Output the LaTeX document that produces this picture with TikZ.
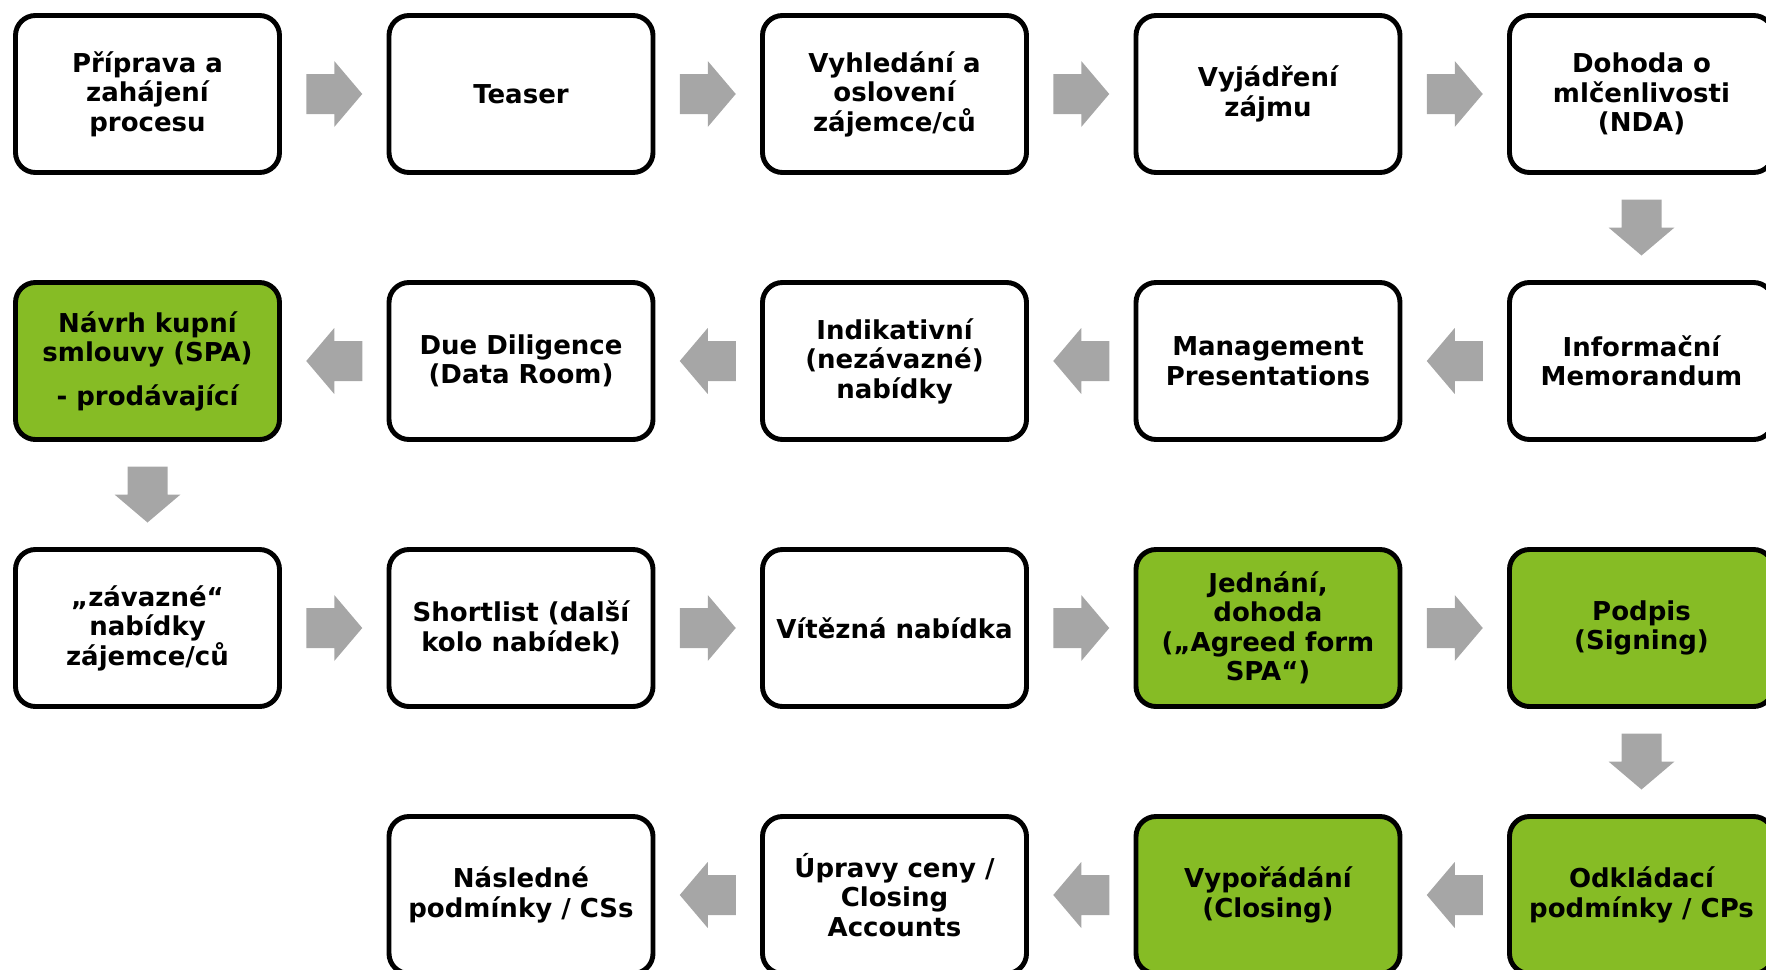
\documentclass[tikz,border=0pt]{standalone}
\usepackage{fontspec}
\setmainfont{DejaVu Sans}
\usetikzlibrary{calc}

\definecolor{spagreen}{RGB}{134,188,37}
\definecolor{arrowgray}{RGB}{166,166,166}

\tikzset{
  stage/.style={draw, line width=1.4pt, rounded corners=0.2cm, fill=white,
    minimum width=2.64cm, minimum height=1.57cm, align=center, inner sep=2pt,
    font=\fontsize{7.4}{8.4}\selectfont\bfseries},
  keystage/.style={stage, fill=spagreen}
}

% block arrow between two steps: from, to, angle
\newcommand{\flowarrow}[3]{%
  \fill[arrowgray, shift={($(#1)!0.5!(#2)$)}, rotate=#3]
    (-0.28,-0.2) -- (0,-0.2) -- (0,-0.33) -- (0.28,0) -- (0,0.33) -- (0,0.2) -- (-0.28,0.2) -- cycle;}

\begin{document}
\begin{tikzpicture}
    \useasboundingbox (0,0) rectangle (17.66,-9.70);
    \clip (0,0) rectangle (17.66,-9.70);

    % First row
    \node[stage] (s1) at (1.475, -0.94) {Příprava a\\zahájení\\procesu};
    \node[stage] (s2) at (5.21, -0.94) {Teaser};
    \node[stage] (s3) at (8.945, -0.94) {Vyhledání a\\oslovení\\zájemce/ců};
    \node[stage] (s4) at (12.68, -0.94) {Vyjádření\\zájmu};
    \node[stage] (s5) at (16.415, -0.94) {Dohoda o\\mlčenlivosti\\(NDA)};

    % Second row (right to left)
    \node[stage] (s6) at (16.415, -3.61) {Informační\\Memorandum};
    \node[stage] (s7) at (12.68, -3.61) {Management\\Presentations};
    \node[stage] (s8) at (8.945, -3.61) {Indikativní\\(nezávazné)\\nabídky};
    \node[stage] (s9) at (5.21, -3.61) {Due Diligence\\(Data Room)};
    \node[keystage] (s10) at (1.475, -3.61) {Návrh kupní\\smlouvy (SPA)\\[0.14cm]- prodávající};

    % Third row
    \node[stage] (s11) at (1.475, -6.28) {„závazné“\\nabídky\\zájemce/ců};
    \node[stage] (s12) at (5.21, -6.28) {Shortlist (další\\kolo nabídek)};
    \node[stage] (s13) at (8.945, -6.28) {Vítězná nabídka};
    \node[keystage] (s14) at (12.68, -6.28) {Jednání,\\dohoda\\(„Agreed form\\SPA“)};
    \node[keystage] (s15) at (16.415, -6.28) {Podpis\\(Signing)};

    % Fourth row (right to left)
    \node[keystage] (s16) at (16.415, -8.95) {Odkládací\\podmínky / CPs};
    \node[keystage] (s17) at (12.68, -8.95) {Vypořádání\\(Closing)};
    \node[stage] (s18) at (8.945, -8.95) {Úpravy ceny /\\Closing\\Accounts};
    \node[stage] (s19) at (5.21, -8.95) {Následné\\podmínky / CSs};

    % Arrows, first row
    \flowarrow{s1}{s2}{0}
    \flowarrow{s2}{s3}{0}
    \flowarrow{s3}{s4}{0}
    \flowarrow{s4}{s5}{0}
    \flowarrow{s5}{s6}{-90}

    % Arrows, second row
    \flowarrow{s6}{s7}{180}
    \flowarrow{s7}{s8}{180}
    \flowarrow{s8}{s9}{180}
    \flowarrow{s9}{s10}{180}
    \flowarrow{s10}{s11}{-90}

    % Arrows, third row
    \flowarrow{s11}{s12}{0}
    \flowarrow{s12}{s13}{0}
    \flowarrow{s13}{s14}{0}
    \flowarrow{s14}{s15}{0}
    \flowarrow{s15}{s16}{-90}

    % Arrows, fourth row
    \flowarrow{s16}{s17}{180}
    \flowarrow{s17}{s18}{180}
    \flowarrow{s18}{s19}{180}
\end{tikzpicture}
\end{document}
